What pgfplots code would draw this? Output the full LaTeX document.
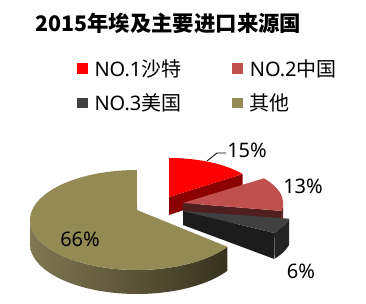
\documentclass[border=0pt]{standalone}
\usepackage{pgfplots}
\pgfplotsset{compat=1.18}
\usepackage{fontspec}
\setmainfont{Noto Sans CJK SC}
\newfontfamily\lat{Noto Sans}
\definecolor{cRed}{HTML}{FF0000}
\definecolor{cRedD}{HTML}{8B0000}
\definecolor{cPink}{HTML}{C0504D}
\definecolor{cPinkD}{HTML}{4F1F1F}
\definecolor{cPinkS}{HTML}{652523}
\definecolor{cGray}{HTML}{404040}
\definecolor{cGrayD}{HTML}{1C1C1C}
\definecolor{cGrayS}{HTML}{242424}
\definecolor{cOlive}{HTML}{948A54}
\definecolor{cOliveL}{HTML}{807852}
\definecolor{cOliveR}{HTML}{37321F}
% data (percent)
\def\vA{15}\def\vB{13}\def\vC{6}\def\vD{66}
\pgfmathsetmacro\aA{0}
\pgfmathsetmacro\aB{\aA+3.6*\vA}
\pgfmathsetmacro\aC{\aB+3.6*\vB}
\pgfmathsetmacro\aD{\aC+3.6*\vC}
\pgfmathsetmacro\aE{\aD+3.6*\vD}
% red slice geometry
\pgfmathsetmacro\rPx{169+91*sin(\aB)}
\pgfmathsetmacro\rPy{197-39*cos(\aB)}
\pgfmathsetmacro\rPyb{\rPy+16}
% pink slice
\pgfmathsetmacro\pPx{183+100*sin(\aC)}
\pgfmathsetmacro\pPy{203-42*cos(\aC)}
\pgfmathsetmacro\pPyb{\pPy+20}
% gray slice
\pgfmathsetmacro\gPx{183+108*sin(\aD)}
\pgfmathsetmacro\gPy{211-41*cos(\aD)}
\pgfmathsetmacro\gPyb{\gPy+26}
% helpers
\newcommand{\side}[8]{%
 \addplot[#1, draw=none, forget plot, domain=0:2, samples=121, variable=\t]
  ({#2+#4*sin(#7+min(\t,2-\t)*(#8-#7))}, {#3-#5*cos(#7+min(\t,2-\t)*(#8-#7))+#6*(\t>1)}) -- cycle;}
\newcommand{\topf}[9]{%
 \addplot[#1, draw=none, forget plot, domain=#8:#9, samples=80, variable=\t]
  ({#4+#6*sin(\t)}, {#5-#7*cos(\t)}) -- (axis cs:#2,#3) -- cycle;}
\begin{document}
\begin{tikzpicture}[x=1pt,y=1pt]
\begin{axis}[
  at={(0,0)}, anchor=south west,
  scale only axis, width=366pt, height=304pt,
  xmin=0, xmax=366, ymin=0, ymax=304, y dir=reverse,
  hide axis, clip=false, no markers,
  legend columns=2,
  legend image code/.code={\fill[#1] (0pt,-5.25pt) rectangle (10.5pt,5.25pt);},
  legend style={at={(axis cs:77,59.5)}, anchor=north west, draw=none, fill=none,
    font=\fontsize{20}{24}\selectfont, inner sep=0pt, outer sep=0pt,
    nodes={inner sep=0pt, outer sep=0pt}, cells={anchor=west},
    row sep=16pt,
    /tikz/every odd column/.append style={column sep=7pt},
    /tikz/every even column/.append style={column sep=51pt}},
]
\addlegendimage{fill=cRed,draw=none}\addlegendentry{{\lat NO.1}沙特}
\addlegendimage{fill=cPink,draw=none}\addlegendentry{{\lat NO.2}中国}
\addlegendimage{fill=cGray,draw=none}\addlegendentry{{\lat NO.3}美国}
\addlegendimage{fill=cOlive,draw=none}\addlegendentry{其他}
% red slice (NO.1)
\addplot[fill=cRedD, draw=none, forget plot] coordinates {(169,197) (\rPx,\rPy) (\rPx,\rPyb) (169,215)} -- cycle;
\topf{fill=cRed}{169}{197}{169}{197}{91}{39}{\aA}{\aB}
% pink slice (NO.2)
\addplot[fill=cPinkD, draw=none, forget plot] coordinates {(183,203) (\pPx,\pPy) (\pPx,\pPyb) (183,215)} -- cycle;
\side{fill=cPinkS}{183}{203}{100}{42}{20}{90}{\aC}
\topf{fill=cPink}{183}{203}{183}{203}{100}{42}{\aB}{\aC}
% gray slice (NO.3)
\addplot[fill=cGrayD, draw=none, forget plot] coordinates {(183,211) (\gPx,\gPy) (\gPx,\gPyb) (183,225)} -- cycle;
\side{fill=cGrayS}{183}{211}{108}{41}{26}{\aC}{\aD}
\topf{fill=cGray}{183}{211}{183}{211}{108}{41}{\aC}{\aD}
% olive slice (others)
\side{left color=cOliveL, right color=cOliveR}{137}{220}{107}{50}{24}{\aD}{270}
\topf{fill=cOlive}{137}{210}{137}{220}{107}{50}{\aD}{\aE}
% leader line
\addplot[black, line width=0.8pt, forget plot] coordinates {(207,161) (217,153) (226,153)};
% labels
\node[font=\lat\fontsize{20}{24}\selectfont] at (axis cs:247,150) {15\%};
\node[font=\lat\fontsize{20}{24}\selectfont] at (axis cs:303,186) {13\%};
\node[font=\lat\fontsize{20}{24}\selectfont] at (axis cs:301,271) {6\%};
\node[font=\lat\fontsize{20}{24}\selectfont] at (axis cs:80,239) {66\%};
\node[font=\bfseries\fontsize{21.4}{25}\selectfont, anchor=west, inner sep=0pt] at (axis cs:35,23) {2015年埃及主要进口来源国};
\end{axis}
\pgfresetboundingbox
\path (0,0) rectangle (366,304);
\end{tikzpicture}
\end{document}
